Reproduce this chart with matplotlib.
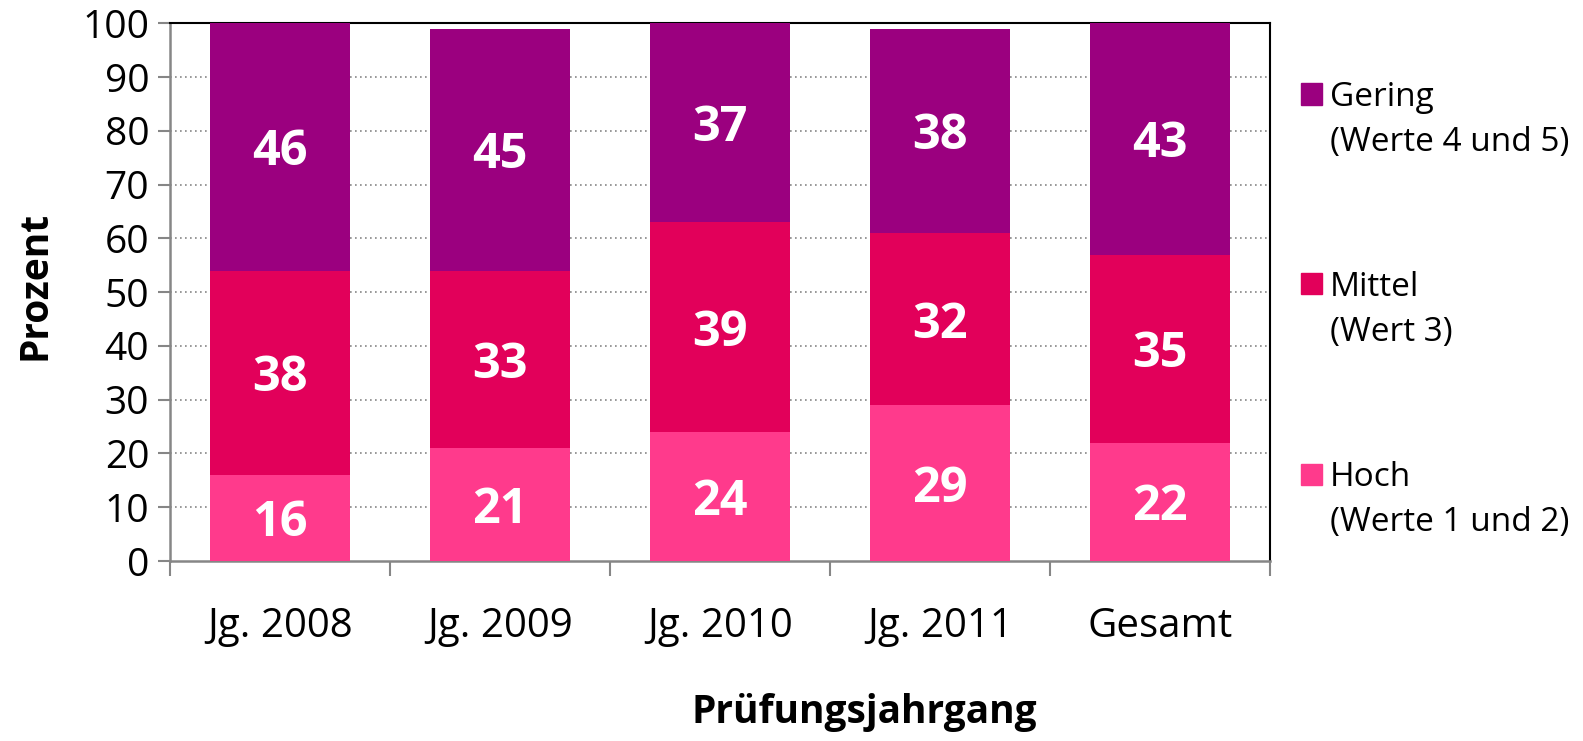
import matplotlib
matplotlib.use("Agg")
import matplotlib.pyplot as plt
from matplotlib.patches import Rectangle
from matplotlib.transforms import offset_copy
import numpy as np

plt.rcParams['font.family'] = ['Open Sans', 'DejaVu Sans']

categories = ["Jg. 2008", "Jg. 2009", "Jg. 2010", "Jg. 2011", "Gesamt"]
hoch = [16, 21, 24, 29, 22]
mittel = [38, 33, 39, 32, 35]
gering = [46, 45, 37, 38, 43]
series_names = ["Hoch\n(Werte 1 und 2)", "Mittel\n(Wert 3)", "Gering\n(Werte 4 und 5)"]
colors = ["#FF3A8C", "#E2005A", "#9B007F"]

fig = plt.figure(figsize=(15.83, 7.41), dpi=100)
ax = fig.add_axes([170/1583, 1-561/741, 1100/1583, (561-23.3)/741])
lbl_tr = offset_copy(ax.transData, fig=fig, x=0, y=-6, units='dots')

x = np.arange(len(categories))
bottom = np.zeros(len(categories))
for vals, col in zip([hoch, mittel, gering], colors):
    ax.bar(x, vals, width=0.64, bottom=bottom, color=col, zorder=3)
    for xi, b, v in zip(x, bottom, vals):
        ax.text(xi, b + v/2, str(v), ha='center', va='center', color='white',
                fontsize=35, fontweight='bold', zorder=4, transform=lbl_tr)
    bottom += np.array(vals)

ax.set_xlim(-0.5, len(categories) - 0.5)
ax.set_ylim(0, 100)
ax.set_yticks(range(0, 101, 10))
ax.tick_params(axis='y', labelsize=28, length=9, width=1.5, color='#868686', pad=6)
ax.set_xticks(x)
ax.set_xticklabels(categories)
ax.set_xticks(np.arange(-0.5, len(categories), 1.0), minor=True)
ax.tick_params(axis='x', which='major', length=0, labelsize=29, pad=33)
ax.tick_params(axis='x', which='minor', length=11, width=1.5, color='#868686')

for yv in range(10, 100, 10):
    ax.axhline(yv, color='#868686', linestyle=(0, (1, 2)), linewidth=1.2, zorder=1)

ax.spines['left'].set_color('#868686')
ax.spines['bottom'].set_color('#868686')
ax.spines['left'].set_linewidth(1.8)
ax.spines['bottom'].set_linewidth(1.8)
ax.spines['top'].set_color('black')
ax.spines['right'].set_color('black')
ax.spines['top'].set_linewidth(1.5)
ax.spines['right'].set_linewidth(1.5)

fig.text(35/1583, 1-285/741, "Prozent", rotation=90, ha='center', va='center',
         fontsize=28, fontweight='bold')
fig.text(864/1583, 1-712/741, "Prüfungsjahrgang", ha='center', va='center',
         fontsize=28, fontweight='bold')

# legend (top to bottom: Gering, Mittel, Hoch)
leg_y = [94, 284, 474]
for name, col, yy in zip(series_names[::-1], colors[::-1], leg_y):
    fig.add_artist(Rectangle((1301/1583, 1-(yy+10.5)/741), 21/1583, 21/741,
                             transform=fig.transFigure, color=col))
    l1, l2 = name.split("\n")
    fig.text(1330/1583, 1-(yy+3)/741, l1, ha='left', va='center', fontsize=24)
    fig.text(1330/1583, 1-(yy+48)/741, l2, ha='left', va='center', fontsize=24)

fig.savefig("out.png", dpi=100)
